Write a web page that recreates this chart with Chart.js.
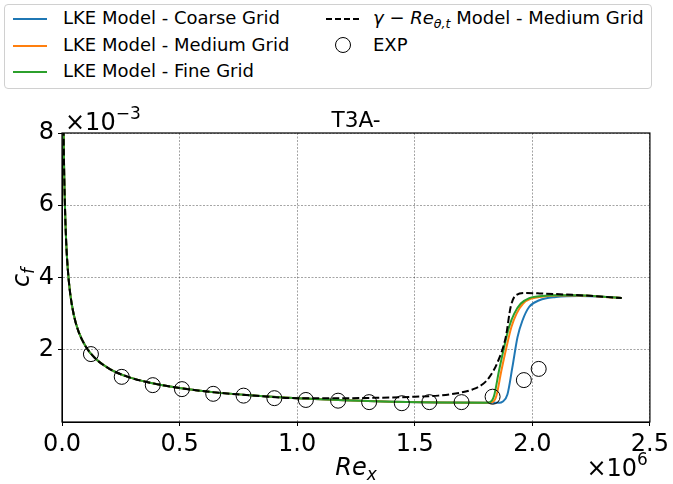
<!DOCTYPE html>
<html>
<head>
<meta charset="utf-8">
<script src="https://cdn.jsdelivr.net/npm/chart.js@4.4.1/dist/chart.umd.min.js"></script>
<style>
  body { margin: 0; background: #fff; font-family: "DejaVu Sans", sans-serif; }
  #wrap { position: relative; width: 673px; height: 484px; }
  #c { position: absolute; left: 0; top: 0; }
  #legend { position: absolute; left: 4px; top: 4px; width: 646px; height: 83px;
    border: 1px solid #d0d0d0; border-radius: 4px; font-size: 18px; color: #000; background: #fff; z-index: 2; }
  .h { position: absolute; width: 34px; height: 2px; }
  .t { position: absolute; white-space: nowrap; line-height: 20px; height: 20px; }
  .dash { background: repeating-linear-gradient(to right, #000 0 6px, transparent 6px 9px); }
  .circ { position: absolute; width: 14px; height: 14px; border: 1px solid #000; border-radius: 50%; }
  sub { font-size: 70%; vertical-align: -4px; line-height: 0; }
</style>
</head>
<body>
<div id="wrap">
  <canvas id="c" width="673" height="484"></canvas>
  <div id="legend">
    <div class="h" style="left:8px;top:13px;background:#1f77b4"></div>
    <div class="t" style="left:58px;top:3px">LKE Model - Coarse Grid</div>
    <div class="h" style="left:8px;top:40px;background:#ff7f0e"></div>
    <div class="t" style="left:58px;top:30px">LKE Model - Medium Grid</div>
    <div class="h" style="left:8px;top:66px;background:#2ca02c"></div>
    <div class="t" style="left:58px;top:56px">LKE Model - Fine Grid</div>
    <div class="h dash" style="left:321px;top:13px"></div>
    <div class="t" style="left:368px;top:3px"><i>γ</i> − <i>Re</i><sub><i>θ,t</i></sub> Model - Medium Grid</div>
    <div class="circ" style="left:330px;top:32px"></div>
    <div class="t" style="left:368px;top:30px">EXP</div>
  </div>
</div>
<script>
// x in units of 1e6, cf in units of 1e-3

// laminar part, shared by all models
const lamX = [0.003, 0.005, 0.008, 0.012, 0.018, 0.025, 0.035, 0.05, 0.07, 0.1, 0.14, 0.2, 0.28, 0.38, 0.5, 0.65, 0.8, 1.0];
const lamY = [12.0, 9.4, 7.4, 6.1, 4.95, 4.2, 3.55, 2.97, 2.51, 2.10, 1.77, 1.48, 1.25, 1.08, 0.94, 0.82, 0.74, 0.66];

const coarseX = [1.2, 1.4, 1.6, 1.8, 1.86, 1.873, 1.894, 1.915, 1.937, 1.958, 1.987, 2.03, 2.10, 2.2, 2.3, 2.38];
const coarseY = [0.60, 0.56, 0.54, 0.53, 0.53, 0.56, 0.76, 1.51, 2.35, 2.81, 3.19, 3.37, 3.46, 3.49, 3.47, 3.43];

const mediumX = [1.2, 1.4, 1.6, 1.8, 1.83, 1.847, 1.868, 1.89, 1.911, 1.933, 1.961, 1.997, 2.04, 2.10, 2.2, 2.3, 2.38];
const mediumY = [0.60, 0.56, 0.54, 0.53, 0.55, 0.72, 1.41, 2.07, 2.63, 3.0, 3.28, 3.42, 3.47, 3.50, 3.50, 3.47, 3.43];

const fineX = [1.2, 1.4, 1.6, 1.8, 1.82, 1.837, 1.858, 1.88, 1.901, 1.923, 1.951, 1.987, 2.03, 2.10, 2.2, 2.3, 2.38];
const fineY = [0.60, 0.56, 0.54, 0.53, 0.55, 0.72, 1.41, 2.07, 2.63, 3.0, 3.28, 3.43, 3.48, 3.51, 3.51, 3.47, 3.43];

const gammaX = [1.2, 1.4, 1.5, 1.6, 1.7, 1.745, 1.79, 1.816, 1.852, 1.887, 1.908, 1.93, 1.972, 2.03, 2.17, 2.3, 2.38];
const gammaY = [0.66, 0.68, 0.70, 0.73, 0.82, 0.90, 1.05, 1.23, 1.65, 2.35, 3.19, 3.51, 3.57, 3.56, 3.52, 3.47, 3.43];

const expX = [0.123, 0.254, 0.386, 0.510, 0.643, 0.772, 0.903, 1.037, 1.174, 1.306, 1.445, 1.562, 1.699, 1.831, 1.964, 2.027];
const expY = [1.88, 1.25, 1.02, 0.91, 0.78, 0.73, 0.66, 0.61, 0.59, 0.55, 0.52, 0.55, 0.55, 0.70, 1.16, 1.47];

const xTicks = [0, 0.5, 1.0, 1.5, 2.0, 2.5];
const yTicks = [2, 4, 6, 8];

function pts(xs, ys) { return xs.map((x, i) => ({ x: x, y: ys[i] })); }
function withLam(xs, ys) { return pts(lamX.concat(xs), lamY.concat(ys)); }

const FONT = "DejaVu Sans";

function lineSet(label, data, color, order, dash) {
  return {
    label, data, order,
    borderColor: color, backgroundColor: color,
    borderWidth: 2, borderDash: dash || [],
    pointRadius: 0, cubicInterpolationMode: "monotone", fill: false
  };
}

// draws runs of text with different fonts / baseline shifts
function rich(ctx, parts, x, y, align) {
  let w = 0;
  parts.forEach(p => { ctx.font = p.font; w += ctx.measureText(p.text).width; });
  let cx = align === "center" ? x - w / 2 : align === "right" ? x - w : x;
  parts.forEach(p => {
    ctx.font = p.font;
    ctx.fillText(p.text, cx, y + (p.dy || 0));
    cx += ctx.measureText(p.text).width;
  });
}

const decor = {
  id: "decor",
  afterDraw(chart) {
    const { ctx, chartArea: { left, top, right, bottom } } = chart;
    ctx.save();
    ctx.strokeStyle = "#000";
    ctx.lineWidth = 1.2;
    ctx.strokeRect(left, top, right - left, bottom - top);

    ctx.fillStyle = "#000";
    ctx.textBaseline = "alphabetic";
    ctx.textAlign = "left";
    const mid = (left + right) / 2;
    rich(ctx, [{ text: "T3A-", font: "21.6px " + FONT }], mid, top - 6, "center");

    rich(ctx, [
      { text: "×10", font: "24px " + FONT },
      { text: "−3", font: "17px " + FONT, dy: -11 }
    ], left + 3, top - 3, "left");

    rich(ctx, [
      { text: "×10", font: "24px " + FONT },
      { text: "6", font: "17px " + FONT, dy: -11 }
    ], right - 2, 476, "right");

    rich(ctx, [
      { text: "Re", font: "italic 24px " + FONT },
      { text: "x", font: "italic 17px " + FONT, dy: 5 }
    ], mid, 475, "center");

    ctx.translate(27, (top + bottom) / 2);
    ctx.rotate(-Math.PI / 2);
    rich(ctx, [
      { text: "c", font: "italic 24px " + FONT },
      { text: "f", font: "italic 17px " + FONT, dy: 5 }
    ], 0, 2, "center");
    ctx.restore();
  }
};

new Chart(document.getElementById("c"), {
  type: "line",
  data: {
    datasets: [
      {
        label: "EXP", data: pts(expX, expY), order: 0, showLine: false,
        pointStyle: "circle", pointRadius: 7.5, pointHoverRadius: 7.5,
        borderColor: "#000", backgroundColor: "rgba(0,0,0,0)", borderWidth: 1
      },
      lineSet("γ-Reθt Model - Medium Grid", withLam(gammaX, gammaY), "#000", 1, [7, 3]),
      lineSet("LKE Model - Fine Grid", withLam(fineX, fineY), "#2ca02c", 2),
      lineSet("LKE Model - Medium Grid", withLam(mediumX, mediumY), "#ff7f0e", 3),
      lineSet("LKE Model - Coarse Grid", withLam(coarseX, coarseY), "#1f77b4", 4)
    ]
  },
  options: {
    responsive: false,
    devicePixelRatio: 1,
    animation: false,
    layout: { padding: { top: 133, right: 21, left: 0, bottom: 0 } },
    plugins: { legend: { display: false }, tooltip: { enabled: false } },
    scales: {
      x: {
        type: "linear", min: 0, max: 2.5,
        afterBuildTicks: s => { s.ticks = xTicks.map(v => ({ value: v })); },
        afterFit: s => { s.height = 62; },
        ticks: {
          callback: v => v.toFixed(1), color: "#000", padding: 4,
          font: { family: FONT, size: 24 }, maxRotation: 0, autoSkip: false
        },
        grid: { color: "rgba(0,0,0,0.45)", lineWidth: 0.8, tickLength: 4, tickColor: "#000", tickWidth: 1 },
        border: { color: "#000", width: 1, dash: [2, 1.5] }
      },
      y: {
        min: 0, max: 8,
        afterBuildTicks: s => { s.ticks = yTicks.map(v => ({ value: v })); },
        afterFit: s => { s.width = 62; },
        ticks: { color: "#000", padding: 4, font: { family: FONT, size: 24 } },
        grid: { color: "rgba(0,0,0,0.45)", lineWidth: 0.8, tickLength: 4, tickColor: "#000", tickWidth: 1 },
        border: { color: "#000", width: 1, dash: [2, 1.5] }
      }
    }
  },
  plugins: [decor]
});
</script>
</body>
</html>
